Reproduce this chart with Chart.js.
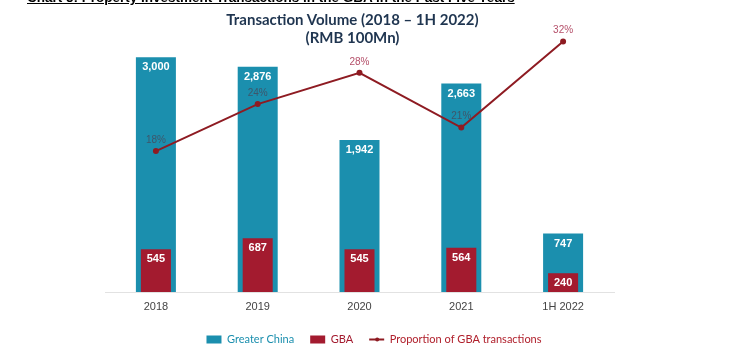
<!DOCTYPE html>
<html>
<head>
<meta charset="utf-8">
<script src="https://cdn.jsdelivr.net/npm/chart.js@4"></script>
<style>
  body { margin: 0; background: #fff; }
  #wrap { position: relative; width: 748px; height: 350px; overflow: hidden; }
  #header { position: absolute; left: 27px; top: -10px; font: bold 13.5px Arial, "Liberation Sans", sans-serif; color: #000; text-decoration: underline; white-space: nowrap; }
  #title { position: absolute; left: 0; width: 705px; top: 10px; text-align: center; font: bold 15px Lato, sans-serif; color: #1f3550; line-height: 18px; }
</style>
</head>
<body>
<div id="wrap">
  <canvas id="graph" width="748" height="350"></canvas>
  <div id="header">Chart 5: Property Investment Transactions in the GBA in the Past Five Years</div>
  <div id="title">Transaction Volume (2018 – 1H 2022)<br>(RMB 100Mn)</div>
</div>
<script>
var categories = ['2018', '2019', '2020', '2021', '1H 2022'];
var greaterChina = [3000, 2876, 1942, 2663, 747];
var gba = [545, 687, 545, 564, 240];
var gbaShare = [18, 24, 28, 21, 32];
var shareLabelColors = ['#3e566b', '#3e566b', '#b5506a', '#3e566b', '#b5506a'];
var legendColors = ['#1b8fae', '#a31b2f', '#b0202c'];

var valueLabels = {
    id: 'valueLabels',
    afterDatasetsDraw: function (chart) {
        var ctx = chart.ctx;
        ctx.save();
        ctx.textAlign = 'center';
        ctx.textBaseline = 'middle';
        [0, 1].forEach(function (i) {
            chart.getDatasetMeta(i).data.forEach(function (bar, j) {
                ctx.font = 'bold 11px Arial';
                ctx.fillStyle = '#fff';
                ctx.fillText(chart.data.datasets[i].data[j].toLocaleString('en-US'), bar.x, bar.y + 10);
            });
        });
        chart.getDatasetMeta(2).data.forEach(function (pt, j) {
            ctx.font = '10px Arial';
            ctx.fillStyle = shareLabelColors[j];
            ctx.fillText(gbaShare[j] + '%', pt.x, pt.y - 11);
        });
        // dot on the line legend marker
        var box = chart.legend.legendHitBoxes[2];
        if (box) {
            ctx.fillStyle = '#8e1b22';
            ctx.beginPath();
            ctx.arc(box.left + 8, box.top + box.height / 2, 2, 0, Math.PI * 2);
            ctx.fill();
        }
        ctx.restore();
    }
};

function hiddenAxis(width, max, pos) {
    return {
        display: true,
        position: pos,
        min: 0,
        max: max,
        grid: { display: false },
        border: { display: false },
        ticks: { display: false },
        afterFit: function (scale) { scale.width = width; }
    };
}

var ctx = document.getElementById('graph').getContext('2d');
var graph = new Chart(ctx, {
    data: {
        labels: categories,
        datasets: [
            {
                type: 'bar',
                label: 'Greater China',
                data: greaterChina,
                backgroundColor: '#1b8fae',
                grouped: false,
                barPercentage: 0.393,
                categoryPercentage: 1,
                pointStyle: 'rect',
                order: 2
            },
            {
                type: 'bar',
                label: 'GBA',
                data: gba,
                backgroundColor: '#a31b2f',
                grouped: false,
                barPercentage: 0.295,
                categoryPercentage: 1,
                pointStyle: 'rect',
                order: 1
            },
            {
                type: 'line',
                label: 'Proportion of GBA transactions',
                data: gbaShare,
                yAxisID: 'y2',
                borderColor: '#8e1b22',
                backgroundColor: '#8e1b22',
                borderWidth: 2,
                pointRadius: 2,
                tension: 0,
                order: 0
            }
        ]
    },
    plugins: [valueLabels],
    options: {
        responsive: false,
        animation: false,
        layout: { padding: { left: 0, right: 0, top: 18, bottom: -5 } },
        plugins: {
            tooltip: { enabled: false },
            legend: {
                position: 'bottom',
                labels: {
                    usePointStyle: true,
                    pointStyleWidth: 15,
                    boxWidth: 15,
                    boxHeight: 8,
                    padding: 16,
                    font: { family: 'Lato', size: 11 },
                    generateLabels: function (chart) {
                        var items = Chart.defaults.plugins.legend.labels.generateLabels(chart);
                        items.forEach(function (it) {
                            it.fontColor = legendColors[it.datasetIndex];
                            if (it.datasetIndex === 2) it.pointStyle = 'line';
                        });
                        return items.sort(function (a, b) { return a.datasetIndex - b.datasetIndex; });
                    }
                }
            }
        },
        scales: {
            x: {
                grid: { display: false, drawTicks: false },
                border: { display: true, color: '#e2e2e2' },
                ticks: { color: '#444', font: { family: 'Arial', size: 11 }, padding: 8 },
                afterFit: function (scale) { scale.height = 26; }
            },
            y: hiddenAxis(105, 3500, 'left'),
            y2: hiddenAxis(134, 35, 'right')
        }
    }
});
</script>
</body>
</html>
